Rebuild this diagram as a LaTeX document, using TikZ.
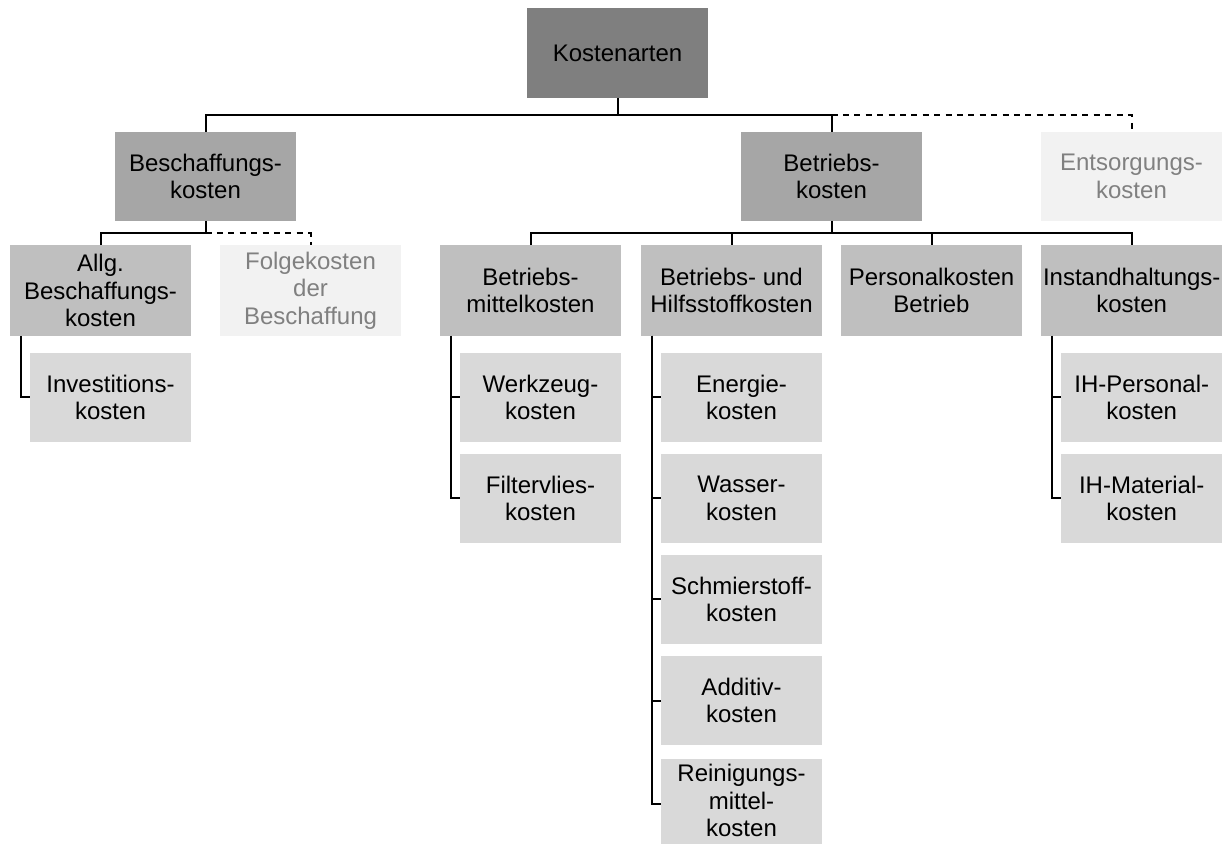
\documentclass[tikz,border=0pt]{standalone}
\usepackage{fontspec}
\setmainfont{Liberation Sans}
\usetikzlibrary{positioning}

\definecolor{levelzero}{HTML}{7F7F7F}
\definecolor{levelone}{HTML}{A6A6A6}
\definecolor{leveltwo}{HTML}{BFBFBF}
\definecolor{levelthree}{HTML}{D9D9D9}
\definecolor{optfill}{HTML}{F2F2F2}
\definecolor{opttext}{HTML}{808080}

\begin{document}
\begin{tikzpicture}[
    costbox/.style={
      rectangle, minimum width=90.5pt, minimum height=44.5pt,
      inner xsep=1pt, inner ysep=1pt, outer sep=0pt, align=center,
      font=\fontsize{12}{13.8}\selectfont
    },
    rootbox/.style={costbox, fill=levelzero, minimum height=45pt},
    lvlone/.style={costbox, fill=levelone},
    lvltwo/.style={costbox, fill=leveltwo, minimum height=45.5pt},
    lvlthree/.style={costbox, fill=levelthree, minimum width=80.5pt},
    optbox/.style={costbox, fill=optfill, text=opttext},
    link/.style={draw, line width=1pt},
    optlink/.style={link, dash pattern=on 3pt off 2.7pt}
  ]
  \useasboundingbox (0,0) rectangle (613.5pt,-422pt);
  \node[rootbox] (kosten) at (308.75pt,-26.5pt) {Kostenarten};
  \node[lvlone, below=17pt of kosten, xshift=-206pt] (besch) {Beschaffungs-\\kosten};
  \node[lvlone, below=17pt of kosten, xshift=107pt] (betr) {Betriebs-\\kosten};
  \node[optbox, right=59.5pt of betr] (ents) {Entsorgungs-\\kosten};
  \node[lvltwo, below=12pt of besch, xshift=-52.5pt] (allg) {Allg.\\Beschaffungs-\\kosten};
  \node[optbox, minimum height=45.5pt, right=14.5pt of allg] (folge) {Folgekosten\\der\\Beschaffung};
  \node[lvltwo, below=12pt of betr, xshift=-150.5pt] (mittel) {Betriebs-\\mittelkosten};
  \node[lvltwo, right=10pt of mittel] (hilfs) {Betriebs- und\\Hilfsstoffkosten};
  \node[lvltwo, right=9.5pt of hilfs] (personal) {Personalkosten\\Betrieb};
  \node[lvltwo, right=9.5pt of personal] (instand) {Instandhaltungs-\\kosten};
  \node[lvlthree, below=8.5pt of allg, xshift=5pt] (invest) {Investitions-\\kosten};
  \node[lvlthree, below=8.5pt of mittel, xshift=5pt] (werkzeug) {Werkzeug-\\kosten};
  \node[lvlthree, below=6pt of werkzeug] (filter) {Filtervlies-\\kosten};
  \node[lvlthree, below=8.5pt of hilfs, xshift=5pt] (energie) {Energie-\\kosten};
  \node[lvlthree, below=6pt of energie] (wasser) {Wasser-\\kosten};
  \node[lvlthree, below=6pt of wasser] (schmier) {Schmierstoff-\\kosten};
  \node[lvlthree, below=6pt of schmier] (additiv) {Additiv-\\kosten};
  \node[lvlthree, below=6pt of additiv, yshift=-1pt, text depth=3pt] (reinigung) {Reinigungs-\\mittel-\\kosten};
  \node[lvlthree, below=8.5pt of instand, xshift=5pt] (ihpers) {IH-Personal-\\kosten};
  \node[lvlthree, below=6pt of ihpers] (ihmat) {IH-Material-\\kosten};
  \coordinate (rootbus) at ([yshift=-8.5pt]kosten.south);
  \coordinate (beschbus) at ([yshift=-6pt]besch.south);
  \coordinate (betrbus) at ([yshift=-6pt]betr.south);
  \draw[link] (kosten.south) -- (rootbus) -| (besch.north);
  \draw[link] (rootbus) -| (betr.north);
  \draw[optlink] (betr.north |- rootbus) -| (ents.north);
  \draw[link] (besch.south) -- (beschbus) -| (allg.north);
  \draw[optlink] (beschbus) -| (folge.north);
  \draw[link] (betr.south) -- (betrbus) -| (mittel.north);
  \draw[link] (betrbus) -| (hilfs.north);
  \draw[link] (betrbus) -| (personal.north);
  \draw[link] (betrbus) -| (instand.north);
  \draw[link] ([xshift=5.5pt]allg.south west) |- (invest.west);
  \draw[link] ([xshift=5.5pt]mittel.south west) |- (werkzeug.west);
  \draw[link] ([xshift=5.5pt]mittel.south west) |- (filter.west);
  \draw[link] ([xshift=5.5pt]hilfs.south west) |- (energie.west);
  \draw[link] ([xshift=5.5pt]hilfs.south west) |- (wasser.west);
  \draw[link] ([xshift=5.5pt]hilfs.south west) |- (schmier.west);
  \draw[link] ([xshift=5.5pt]hilfs.south west) |- (additiv.west);
  \draw[link] ([xshift=5.5pt]hilfs.south west) |- (reinigung.west);
  \draw[link] ([xshift=5.5pt]instand.south west) |- (ihpers.west);
  \draw[link] ([xshift=5.5pt]instand.south west) |- (ihmat.west);
\end{tikzpicture}
\end{document}
